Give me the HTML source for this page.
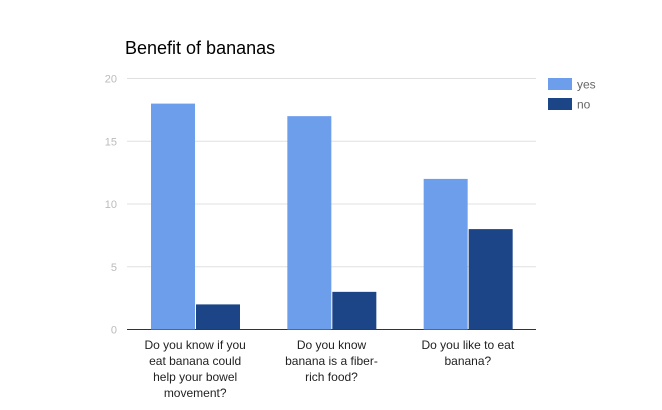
<!DOCTYPE html>
<html><head><meta charset="utf-8"><style>
body{margin:0;background:#fff;}
svg{display:block;font-family:"Liberation Sans",Arial,sans-serif;}
</style></head><body>
<svg id="chart" width="662" height="410">
<text x="125" y="54" font-size="18" fill="#000">Benefit of bananas</text>
<g id="grid"></g><g id="bars"></g><g id="xlabels"></g>
<g>
<rect x="548" y="78" width="24" height="12" fill="#6d9eeb"/>
<text x="577" y="88.5" font-size="12" fill="#666">yes</text>
<rect x="548" y="98" width="24" height="12" fill="#1c4587"/>
<text x="577" y="108.5" font-size="12" fill="#666">no</text>
</g>
</svg>
<script>
const categories=[["Do you know if you","eat banana could","help your bowel","movement?"],["Do you know","banana is a fiber-","rich food?"],["Do you like to eat","banana?"]];
const yesValues=[18,17,12];
const noValues=[2,3,8];
const yTicks=[0,5,10,15,20];
const NS="http://www.w3.org/2000/svg";
const x0=127,x1=536,yBase=329.5,yTop=78.5,yMax=20;
const y=v=>yBase-(yBase-yTop)*v/yMax;
const groupW=(x1-x0)/categories.length;
function mk(t,a,p){const e=document.createElementNS(NS,t);for(const k in a)e.setAttribute(k,a[k]);p.appendChild(e);return e;}
const grid=document.getElementById('grid');
yTicks.forEach(t=>{
 const l=mk('line',{x1:x0,x2:x1,y1:y(t),y2:y(t),stroke:t===0?'#333':'#e0e0e0','stroke-width':1},grid);
 
 
 const tx=mk('text',{x:117,y:y(t)+4,'font-size':11,fill:'#bbb','text-anchor':'end'},grid);
 tx.textContent=t;
 
 
});
const bars=document.getElementById('bars'),xl=document.getElementById('xlabels');
categories.forEach((c,i)=>{
 const gx=x0+groupW*i+24;
 const b1=mk('rect',{x:gx,y:y(yesValues[i]),width:44,height:yBase-y(yesValues[i]),fill:'#6d9eeb'},bars);
 
 
 const b2=mk('rect',{x:gx+45,y:y(noValues[i]),width:44,height:yBase-y(noValues[i]),fill:'#1c4587'},bars);
 
 
 const cx=x0+groupW*(i+0.5);
 c.forEach((line,j)=>{
  const t=mk('text',{x:cx,y:349+j*16,'font-size':12,fill:'#222','text-anchor':'middle'},xl);
  t.textContent=line;
  
  
 });
});
</script>
</body></html>
